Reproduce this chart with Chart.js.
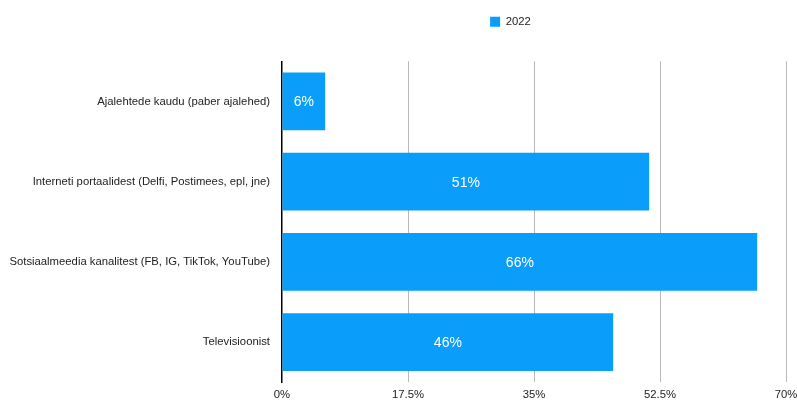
<!DOCTYPE html>
<html>
<head>
<meta charset="utf-8">
<script src="https://cdn.jsdelivr.net/npm/chart.js@4/dist/chart.umd.min.js"></script>
<style>
  html, body { margin: 0; padding: 0; background: #fff; }
  #wrap { width: 797px; height: 401px; position: relative; }
</style>
</head>
<body>
<div id="wrap"><canvas id="chart"></canvas></div>
<script>
// Where people get their news, share of respondents
const categories = [
  'Ajalehtede kaudu (paber ajalehed)',
  'Interneti portaalidest (Delfi, Postimees, epl, jne)',
  'Sotsiaalmeedia kanalitest (FB, IG, TikTok, YouTube)',
  'Televisioonist'
];
const seriesName = '2022';
const values2022 = [6, 51, 66, 46];
const tickMax = 70;
const tickStep = 17.5;

const fontFamily = 'Helvetica, "Liberation Sans", Arial, sans-serif';
const textSize = 11.3;

// White value labels in the middle of each bar
const barValueLabels = {
  id: 'barValueLabels',
  afterDatasetsDraw(chart) {
    const ctx = chart.ctx;
    const meta = chart.getDatasetMeta(0);
    ctx.save();
    ctx.fillStyle = '#ffffff';
    ctx.font = '14px ' + fontFamily;
    ctx.textAlign = 'center';
    ctx.textBaseline = 'middle';
    meta.data.forEach((bar, i) => {
      const x = (bar.x + bar.base) / 2;
      ctx.fillText(values2022[i] + '%', x, bar.y + 1);
    });
    ctx.restore();
  }
};

// Extra room under the legend, and legend pushed right over the plot
const legendPlacement = {
  id: 'legendPlacement',
  afterInit(chart) {
    const legend = chart.legend;
    if (!legend || legend._spaced) return;
    const fit = legend.fit;
    legend.fit = function () {
      fit.call(this);
      this.height += 24;
    };
    legend._spaced = true;
  },
  afterLayout(chart) {
    if (chart.legend) chart.legend.left += 224;
  }
};

new Chart(document.getElementById('chart'), {
  type: 'bar',
  data: {
    labels: categories,
    datasets: [{
      label: seriesName,
      data: values2022,
      backgroundColor: '#0a9dfa',
      borderWidth: 0
    }]
  },
  options: {
    indexAxis: 'y',
    responsive: true,
    maintainAspectRatio: false,
    animation: false,
    layout: {
      padding: { left: 0, right: 0, top: 6, bottom: 0 }
    },
    plugins: {
      legend: {
        position: 'top',
        labels: {
          boxWidth: 10,
          boxHeight: 10,
          color: '#222',
          font: { size: textSize, family: fontFamily },
          padding: 10
        }
      },
      tooltip: { enabled: false }
    },
    scales: {
      x: {
        min: 0,
        max: tickMax,
        border: { display: false },
        grid: {
          drawTicks: false,
          color: (c) => c.index === 0 ? 'rgba(0,0,0,0)' : '#b8b8b8'
        },
        ticks: {
          stepSize: tickStep,
          padding: 6,
          color: '#222',
          font: { size: textSize, family: fontFamily },
          callback: (v) => v + '%'
        },
        afterFit(scale) {
          scale.height = 16;
          scale.paddingRight = 11;
        }
      },
      y: {
        border: { display: true, color: '#000', width: 1.5 },
        grid: { display: false, drawTicks: false },
        ticks: {
          padding: 12,
          color: '#222',
          font: { size: textSize, family: fontFamily }
        },
        afterFit(scale) { scale.width = 282; }
      }
    }
  },
  plugins: [barValueLabels, legendPlacement]
});
</script>
</body>
</html>
